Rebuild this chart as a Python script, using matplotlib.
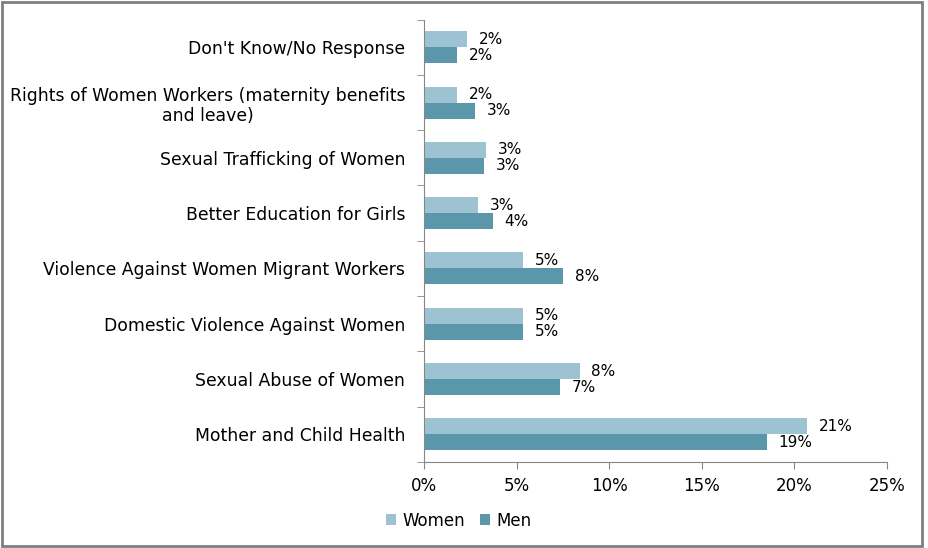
import numpy as np
import matplotlib.pyplot as plt
from matplotlib.patches import Rectangle

plt.rcParams['font.family'] = ['DejaVu Sans']

categories = [
    "Don't Know/No Response",
    "Rights of Women Workers (maternity benefits\nand leave)",
    "Sexual Trafficking of Women",
    "Better Education for Girls",
    "Violence Against Women Migrant Workers",
    "Domestic Violence Against Women",
    "Sexual Abuse of Women",
    "Mother and Child Health",
]
women = [2.3, 1.8, 3.35, 2.9, 5.35, 5.35, 8.4, 20.7]
men = [1.8, 2.75, 3.25, 3.7, 7.5, 5.35, 7.35, 18.5]
women_labels = ["2%", "2%", "3%", "3%", "5%", "5%", "8%", "21%"]
men_labels = ["2%", "3%", "3%", "4%", "8%", "5%", "7%", "19%"]

women_color = '#9DC3D2'
men_color = '#5B97AB'
fs = 12

fig = plt.figure(figsize=(9.29, 5.48), dpi=100)
ax = fig.add_axes([0.4564, 0.157, 0.4984, 0.8072])

y = np.arange(len(categories))
h = 0.29
ax.barh(y - h / 2, women, height=h, color=women_color, label='Women')
ax.barh(y + h / 2, men, height=h, color=men_color, label='Men')

for i in range(len(categories)):
    ax.annotate(women_labels[i], (women[i], y[i] - h / 2), xytext=(8.5, 0),
                textcoords='offset points', va='center', ha='left', fontsize=11)
    ax.annotate(men_labels[i], (men[i], y[i] + h / 2), xytext=(8.5, 0),
                textcoords='offset points', va='center', ha='left', fontsize=11)

ax.set_xlim(0, 25)
ax.set_ylim(len(categories) - 0.5, -0.5)
ax.set_xticks(np.arange(0, 26, 5))
ax.set_xticklabels([f"{v}%" for v in range(0, 26, 5)], fontsize=fs)
ax.set_yticks(y)
ax.set_yticklabels(categories, fontsize=12.4, multialignment='center',
                   linespacing=1.2)
ax.set_yticks(np.arange(-0.5, len(categories), 1), minor=True)
ax.tick_params(axis='y', which='major', length=0, pad=13.5)
ax.tick_params(axis='y', which='minor', length=5, color='#868686')
ax.tick_params(axis='x', length=5, color='#868686', pad=6)

for s in ['top', 'right']:
    ax.spines[s].set_visible(False)
ax.spines['left'].set_color('#868686')
ax.spines['bottom'].set_color('#868686')

fig.legend(loc='center', bbox_to_anchor=(0.494, 0.05), ncol=2, frameon=False,
           fontsize=fs, handlelength=0.6, handleheight=0.6, columnspacing=0.9,
           handletextpad=0.4)

fig.patches.append(Rectangle((0.002, 0.004), 0.99, 0.993, transform=fig.transFigure,
                             fill=False, edgecolor='#7F7F7F', linewidth=2))

fig.savefig('out.png', dpi=100)
